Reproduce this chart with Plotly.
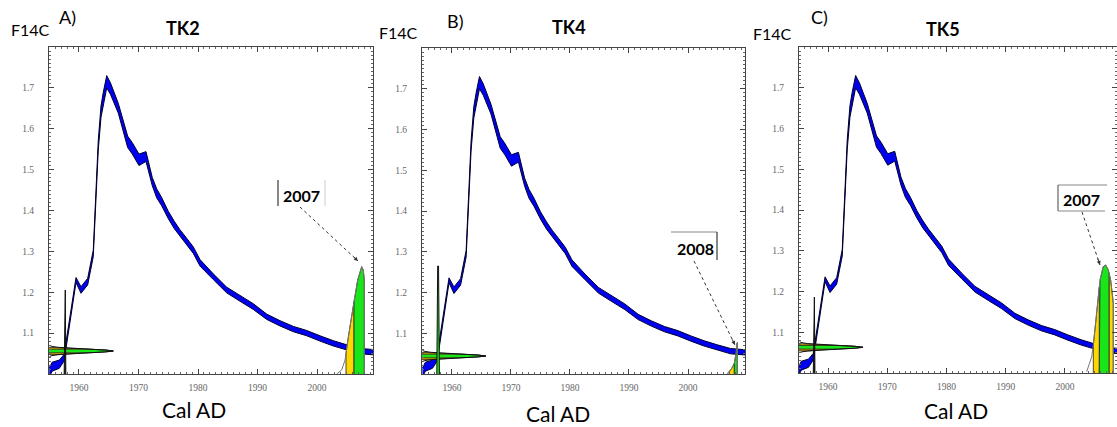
import plotly.graph_objects as go

W, H = 1117, 427

# ---------------- data ----------------
# Bomb-pulse calibration curve (F14C vs calendar year) and its half-width
cal_year = [1955.0, 1955.5, 1956.7, 1957.5, 1959.5, 1960.34, 1961.46, 1962.40,
            1963.24, 1963.70, 1964.08, 1964.66, 1965.3, 1966.61, 1968.18, 1968.96,
            1970.08, 1971.26, 1972.32, 1973.06, 1973.90, 1975.01, 1976.02, 1976.97,
            1978.10, 1979.21, 1980.34, 1982.57, 1984.82, 1987.06, 1989.29, 1991.55,
            1993.78, 1996.02, 1998.27, 2000.50, 2002.74, 2004.99, 2007.23, 2009.8]
cal_f14c = [1.004, 1.018, 1.024, 1.040, 1.230, 1.2055, 1.226, 1.295,
            1.560, 1.642, 1.675, 1.715, 1.698, 1.650, 1.568, 1.552,
            1.524, 1.532, 1.4705, 1.442, 1.4215, 1.389, 1.3645, 1.345,
            1.324, 1.303, 1.272, 1.238, 1.2055, 1.185, 1.165, 1.140,
            1.124, 1.110, 1.100, 1.087, 1.075, 1.065, 1.056, 1.053]
cal_err = [0.011, 0.011, 0.010, 0.008, 0.006, 0.008, 0.008, 0.008,
           0.012, 0.014, 0.014, 0.015, 0.014, 0.012, 0.014, 0.014,
           0.014, 0.012, 0.010, 0.011, 0.010, 0.009, 0.009, 0.008,
           0.008, 0.008, 0.008, 0.007, 0.007, 0.007, 0.007, 0.0065,
           0.0065, 0.0065, 0.0065, 0.0065, 0.0065, 0.0065, 0.0065, 0.0065]

panels = ["TK2", "TK4", "TK5"]
panel_tags = ["A)", "B)", "C)"]
result_labels = ["2007", "2008", "2007"]

# measured F14C of each sample (horizontal probability on the y axis)
meas_f14c = [1.0563, 1.0442, 1.0631]
gauss_off = [-0.0135, -0.0113, -0.009, -0.0068, -0.0045, -0.0023, 0.0,
             0.0023, 0.0045, 0.0068, 0.009, 0.0113, 0.0135]
gauss_len = [0.1, 0.5, 1.5, 3.5, 6.6, 9.5, 10.8, 9.5, 6.6, 3.5, 1.5, 0.5, 0.1]

# narrow early intercept
spike_year = 1957.65
spike_top = [1.2055, 1.265, 1.1865]

# calibrated calendar-age distributions (year, height in F14C units)
distA_year = [2003.3, 2004.15, 2004.71, 2004.87, 2005.09, 2005.55, 2006.22, 2006.84,
              2007.51, 2007.78, 2007.95]
distA_top = [1.000, 1.010, 1.034, 1.051, 1.075, 1.116, 1.177, 1.230,
             1.2625, 1.254, 1.230]
distB_year = [2006.6, 2006.95, 2007.41, 2007.85, 2008.14, 2008.25, 2008.36]
distB_top = [1.000, 1.005, 1.014, 1.026, 1.051, 1.075, 1.077]
distC_year = [2003.66, 2004.51, 2004.78, 2005.06, 2005.45, 2005.79, 2005.91, 2006.46,
              2006.87, 2007.31, 2007.43, 2007.71, 2008.05, 2008.15]
distC_top = [1.003, 1.040, 1.069, 1.106, 1.171, 1.211, 1.228, 1.261,
             1.265, 1.253, 1.245, 1.228, 1.187, 1.171]
dist_years = [distA_year, distB_year, distC_year]
dist_tops = [distA_top, distB_top, distC_top]
# 2-sigma (yellow) and 1-sigma (green) ranges
yellow_ranges = [[(2004.87, 2006.22)], [(2006.95, 2007.85)],
                 [(2004.78, 2005.79), (2007.43, 2008.15)]]
green_ranges = [[(2006.22, 2007.95)], [(2007.85, 2008.36)], [(2005.79, 2007.43)]]

x_ticks = [1960, 1970, 1980, 1990, 2000]
y_ticks = [1.1, 1.2, 1.3, 1.4, 1.5, 1.6, 1.7]

# ---------------- layout geometry ----------------
x_ranges = [[1954.96, 2009.41], [1954.92, 2009.66], [1955.1, 2008.78]]
y_range = [1.0, 1.8]
px_box = [(49, 373, 47, 374), (422, 745, 48, 374), (799, 1117, 47, 373)]

BLUE = "#0000f0"
GREEN = "#19e619"
YELLOW = "#ffd700"
HYELLOW = "#e0ac00"

fig = go.Figure()

def ax_names(i):
    s = "" if i == 0 else str(i + 1)
    return "x" + s, "y" + s

for i in range(3):
    xa, ya = ax_names(i)
    base = y_range[0]
    # calibration band
    up = [f + e for f, e in zip(cal_f14c, cal_err)]
    lo = [f - e for f, e in zip(cal_f14c, cal_err)]
    fig.add_trace(go.Scatter(x=cal_year + cal_year[::-1], y=up + lo[::-1],
                             fill="toself", fillcolor=BLUE, mode="lines",
                             line=dict(color="#000030", width=1),
                             xaxis=xa, yaxis=ya, hoverinfo="skip", showlegend=False))
    # horizontal measurement probability
    x0 = x_ranges[i][0]
    mu = meas_f14c[i]
    for (a, b, col) in [(2, 10, HYELLOW), (4, 8, GREEN)]:
        ys = [mu + o for o in gauss_off[a:b + 1]]
        xs = [x0 + l for l in gauss_len[a:b + 1]]
        fig.add_trace(go.Scatter(x=[x0] + xs + [x0], y=[ys[0]] + ys + [ys[-1]],
                                 fill="toself", fillcolor=col, mode="lines",
                                 line=dict(color="#222", width=0.8),
                                 xaxis=xa, yaxis=ya, hoverinfo="skip", showlegend=False))
    fig.add_trace(go.Scatter(x=[x0 + l for l in gauss_len], y=[mu + o for o in gauss_off],
                             mode="lines", line=dict(color="#111", width=1),
                             xaxis=xa, yaxis=ya, hoverinfo="skip", showlegend=False))
    # early spike
    hw = 0.22 if i == 1 else 0.14
    fig.add_trace(go.Scatter(x=[spike_year - hw, spike_year - hw / 3, spike_year + hw / 3, spike_year + hw],
                             y=[base, spike_top[i], spike_top[i], base],
                             fill="toself", fillcolor=(GREEN if i == 1 else "#111"), mode="lines",
                             line=dict(color="#111", width=1),
                             xaxis=xa, yaxis=ya, hoverinfo="skip", showlegend=False))
    # calibrated calendar distribution
    dy, dt = dist_years[i], dist_tops[i]
    for ranges, col in [(yellow_ranges[i], YELLOW), (green_ranges[i], GREEN)]:
        for (lo_y, hi_y) in ranges:
            sx = [y for y in dy if lo_y - 1e-6 <= y <= hi_y + 1e-6]
            st = [t for y, t in zip(dy, dt) if lo_y - 1e-6 <= y <= hi_y + 1e-6]
            fig.add_trace(go.Scatter(x=[sx[0]] + sx + [sx[-1]], y=[base] + st + [base],
                                     fill="toself", fillcolor=col, mode="lines",
                                     line=dict(color="#222", width=0.8),
                                     xaxis=xa, yaxis=ya, hoverinfo="skip", showlegend=False))
    fig.add_trace(go.Scatter(x=dy + [dy[-1]], y=dt + [base], mode="lines",
                             line=dict(color="#777", width=1),
                             xaxis=xa, yaxis=ya, hoverinfo="skip", showlegend=False))

def px(x):
    return x / W

def py(y):
    return 1 - y / H

layout = dict(width=W, height=H, margin=dict(l=0, r=0, t=0, b=0),
              paper_bgcolor="white", plot_bgcolor="white", showlegend=False)
serif = dict(family="Liberation Serif", size=9.5, color="#666")
for i in range(3):
    l, r, t, b = px_box[i]
    s = "" if i == 0 else str(i + 1)
    layout["xaxis" + s] = dict(domain=[px(l), min(1.0, px(r))], range=x_ranges[i],
                               anchor="y" + s, showline=True, linecolor="#444", linewidth=1,
                               mirror="ticks", ticks="inside", ticklen=5, tickcolor="#444",
                               tickvals=x_ticks, ticktext=[str(v) for v in x_ticks],
                               tickfont=serif, ticklabelstandoff=5,
                               minor=dict(dtick=1, ticks="inside", ticklen=2, tickcolor="#666"),
                               showgrid=False, zeroline=False, fixedrange=True)
    layout["yaxis" + s] = dict(domain=[py(b), py(t)], range=y_range,
                               anchor="x" + s, showline=True, linecolor="#444", linewidth=1,
                               mirror="ticks", ticks="inside", ticklen=5, tickcolor="#444",
                               tickvals=y_ticks, ticktext=[f"{v:.1f}" for v in y_ticks],
                               tickfont=serif, ticklabelstandoff=12,
                               minor=dict(dtick=0.01, ticks="inside", ticklen=2, tickcolor="#666"),
                               showgrid=False, zeroline=False, fixedrange=True)

fig.update_layout(**layout)

ann = []
def txt(x, y, s, size, bold=False):
    ann.append(dict(x=px(x), y=py(y), xref="paper", yref="paper", showarrow=False,
                    text=("<b>%s</b>" % s) if bold else s, xanchor="center", yanchor="middle",
                    font=dict(family="Lato", size=size, color="#000")))

f14c_pos = [(30, 30), (398, 33), (772, 34)]
tag_pos = [(67, 17), (455, 21), (819, 17)]
title_pos = [(183, 28), (569, 27), (943, 29)]
caltext_pos = [(194, 409), (558, 413), (956, 410)]
res_pos = [(302, 195), (695, 248), (1081, 199)]
for i in range(3):
    txt(*f14c_pos[i], "F14C", 16)
    txt(*tag_pos[i], panel_tags[i], 18)
    txt(*title_pos[i], panels[i], 18, bold=True)
    txt(*caltext_pos[i], "Cal AD", 21)
    txt(*res_pos[i], result_labels[i], 16, bold=True)

# arrows (dotted line + head)
arrows = [((300, 207), (358, 261)), ((694, 261), (735, 345)), ((1082, 212), (1100, 265))]
shapes = []
for (tx, ty), (hx, hy) in arrows:
    shapes.append(dict(type="line", xref="paper", yref="paper", x0=px(tx), y0=py(ty),
                       x1=px(hx), y1=py(hy), line=dict(color="#333", width=1, dash="dot")))
    dx, dy = hx - tx, hy - ty
    n = (dx * dx + dy * dy) ** 0.5
    ann.append(dict(x=px(hx), y=py(hy), xref="paper", yref="paper", text="", showarrow=True,
                    ax=-dx / n * 8, ay=-dy / n * 8, arrowhead=2, arrowsize=0.8, arrowwidth=1,
                    arrowcolor="#333"))

# label box borders
box_lines = [((278, 180, 278, 206), "#111"), ((325, 180, 325, 206), "#ccc"),
             ((671, 232, 717, 232), "#888"), ((717, 232, 717, 260), "#111"),
             ((1058, 185, 1107, 185), "#888"), ((1058, 185, 1058, 211), "#444"),
             ((1058, 211, 1105, 211), "#888")]
for (x0, y0, x1, y1), c in box_lines:
    shapes.append(dict(type="line", xref="paper", yref="paper", x0=px(x0), y0=py(y0),
                       x1=px(x1), y1=py(y1), line=dict(color=c, width=1)))

fig.update_layout(annotations=ann, shapes=shapes)
fig.write_html("out.html")
